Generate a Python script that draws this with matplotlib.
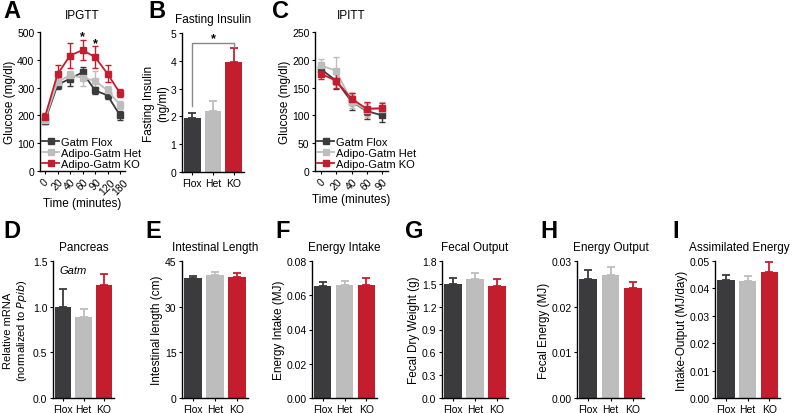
import matplotlib.pyplot as plt
import numpy as np
from matplotlib.lines import Line2D

plt.rcParams['font.family'] = ['Liberation Sans', 'DejaVu Sans']
plt.rcParams['font.size'] = 7.5
plt.rcParams['axes.linewidth'] = 1.0
plt.rcParams['xtick.major.size'] = 2.5
plt.rcParams['ytick.major.size'] = 2.5

groups = ["Flox", "Het", "KO"]
series_names = ["Gatm Flox", "Adipo-Gatm Het", "Adipo-Gatm KO"]
colors = ["#3b3b3d", "#bdbdbd", "#c41e2e"]

# IPGTT
gtt_times = ["0", "20", "40", "60", "90", "120", "180"]
gtt_flox = [180, 310, 332, 355, 290, 272, 200]
gtt_flox_err = [10, 15, 25, 20, 12, 12, 15]
gtt_het = [185, 320, 345, 335, 325, 290, 238]
gtt_het_err = [10, 15, 15, 30, 35, 15, 15]
gtt_ko = [195, 348, 415, 435, 410, 350, 280]
gtt_ko_err = [12, 35, 45, 35, 38, 30, 15]

# fasting insulin
insulin = [1.95, 2.2, 3.97]
insulin_err = [0.18, 0.35, 0.48]

# IPITT
itt_times = ["0", "20", "40", "60", "90"]
itt_flox = [183, 162, 125, 108, 100]
itt_flox_err = [8, 15, 15, 15, 12]
itt_het = [190, 180, 125, 110, 112]
itt_het_err = [12, 25, 12, 12, 12]
itt_ko = [175, 162, 130, 112, 113]
itt_ko_err = [10, 12, 10, 12, 10]

# bottom row bars
pancreas = [1.0, 0.89, 1.24]
pancreas_err = [0.19, 0.08, 0.12]
intestine = [39.5, 40.3, 39.8]
intestine_err = [0.7, 1.0, 1.3]
intake = [0.0655, 0.066, 0.066]
intake_err = [0.002, 0.0025, 0.004]
fecal = [1.50, 1.56, 1.47]
fecal_err = [0.08, 0.08, 0.10]
energy_out = [0.026, 0.027, 0.024]
energy_out_err = [0.002, 0.0017, 0.0015]
assim = [0.043, 0.0427, 0.046]
assim_err = [0.002, 0.0017, 0.0035]

fig = plt.figure(figsize=(8, 4.14), dpi=100)


def style(ax):
    ax.spines['top'].set_visible(False)
    ax.spines['right'].set_visible(False)
    ax.tick_params(direction='out', pad=1.5, labelsize=7.5)


def line_panel(ax, labels, data, title, ylim, yticks):
    x = np.arange(len(labels))
    for (vals, errs), c in zip(data, colors):
        ax.errorbar(x, vals, yerr=errs, color=c, marker='s', ms=4, lw=1.3,
                    capsize=2.5, elinewidth=1.0, capthick=1.0)
    ax.set_xticks(x)
    ax.set_xticklabels(labels, rotation=45, ha='center', fontsize=8)
    ax.set_xlim(-0.4, len(labels) - 0.6)
    ax.set_ylim(*ylim)
    ax.set_yticks(yticks)
    ax.set_ylabel("Glucose (mg/dl)", fontsize=8.5, labelpad=1)
    ax.set_xlabel("Time (minutes)", fontsize=8.5, labelpad=1)
    ax.set_title(title, fontsize=8.5, pad=10)
    handles = [Line2D([], [], color=c, marker='s', ms=5, lw=1.3) for c in colors]
    ax.legend(handles, series_names, loc='lower left', frameon=False, fontsize=8,
              handlelength=1.6, handletextpad=0.1, borderpad=0.1, labelspacing=0.1,
              borderaxespad=0.05)
    style(ax)


def bar_panel(ax, vals, errs, title, ylabel, ylim, yticks, fmt):
    x = np.arange(3)
    ax.bar(x, vals, width=0.8, color=colors)
    for xi, v, e, c in zip(x, vals, errs, colors):
        ax.errorbar(xi, v, yerr=[[0], [e]], color=c, capsize=3, elinewidth=1.3,
                    capthick=1.3)
    ax.set_xticks(x)
    ax.set_xticklabels(groups, fontsize=8.5)
    ax.set_xlim(-0.5, 2.5)
    ax.set_ylim(*ylim)
    ax.set_yticks(yticks)
    ax.set_yticklabels([fmt.format(t) for t in yticks])
    ax.set_ylabel(ylabel, fontsize=8.5, labelpad=1)
    ax.set_title(title, fontsize=8.5, pad=8)
    style(ax)


W, H = 800, 414


def add_ax(left, top, right, bottom):
    return fig.add_axes([left / W, 1 - bottom / H, (right - left) / W, (bottom - top) / H])


# A
axA = add_ax(40, 33, 125, 172)
line_panel(axA, gtt_times,
           [(gtt_flox, gtt_flox_err), (gtt_het, gtt_het_err), (gtt_ko, gtt_ko_err)],
           "IPGTT", (0, 500), [0, 100, 200, 300, 400, 500])
for i in (3, 4):
    axA.text(i, gtt_ko[i] + gtt_ko_err[i] - 8, "*", ha='center', va='bottom', fontsize=9,
             fontweight='bold')

# B
axB = add_ax(182, 34, 244, 173)
bar_panel(axB, insulin, insulin_err, "Fasting Insulin", "Fasting Insulin\n(ng/ml)",
          (0, 5), [0, 1, 2, 3, 4, 5], "{:.0f}")
yb = 4.65
axB.plot([0, 0, 2, 2], [insulin[0] + insulin_err[0] + 0.25, yb, yb, insulin[2] + insulin_err[2] + 0.05],
         color='#888888', lw=1.0)
axB.text(1, yb - 0.05, "*", ha='center', va='bottom', fontsize=9, fontweight='bold')

# C
axC = add_ax(315, 33, 388, 172)
line_panel(axC, itt_times,
           [(itt_flox, itt_flox_err), (itt_het, itt_het_err), (itt_ko, itt_ko_err)],
           "IPITT", (0, 250), [0, 50, 100, 150, 200, 250])

# bottom row
axD = add_ax(53, 262, 114, 399)
bar_panel(axD, pancreas, pancreas_err, "Pancreas",
          "Relative mRNA\n(normalized to $\\it{Ppib}$)", (0, 1.5), [0, 0.5, 1.0, 1.5], "{:.1f}")
axD.yaxis.label.set_fontsize(8)
axD.yaxis.set_label_coords(-0.4, 0.5)
axD.text(0.1, 0.97, "Gatm", transform=axD.transAxes, style='italic', fontsize=8,
         ha='left', va='top')

axE = add_ax(182, 262, 248, 399)
bar_panel(axE, intestine, intestine_err, "Intestinal Length", "Intestinal length (cm)",
          (0, 45), [0, 15, 30, 45], "{:.0f}")

axF = add_ax(312, 262, 377, 399)
bar_panel(axF, intake, intake_err, "Energy Intake", "Energy Intake (MJ)",
          (0, 0.08), [0, 0.02, 0.04, 0.06, 0.08], "{:.2f}")

axG = add_ax(442, 262, 508, 399)
bar_panel(axG, fecal, fecal_err, "Fecal Output", "Fecal Dry Weight (g)",
          (0, 1.8), [0, 0.3, 0.6, 0.9, 1.2, 1.5, 1.8], "{:.1f}")

axH = add_ax(577, 262, 644, 399)
bar_panel(axH, energy_out, energy_out_err, "Energy Output", "Fecal Energy (MJ)",
          (0, 0.03), [0, 0.01, 0.02, 0.03], "{:.2f}")

axI = add_ax(715, 262, 780, 399)
bar_panel(axI, assim, assim_err, "Assimilated Energy", "Intake-Output (MJ/day)",
          (0, 0.05), [0, 0.01, 0.02, 0.03, 0.04, 0.05], "{:.2f}")
axI.title.set_position((0.38, 1.0))

# panel letters
for letter, px, py in [("A", 3, 0), ("B", 148, 0), ("C", 272, 0), ("D", 3, 220),
                       ("E", 145, 220), ("F", 275, 220), ("G", 405, 220),
                       ("H", 540, 220), ("I", 672, 220)]:
    fig.text(px / W, 1 - py / H, letter, fontsize=17, fontweight='bold', ha='left', va='top')

fig.savefig("out.png", dpi=100)
